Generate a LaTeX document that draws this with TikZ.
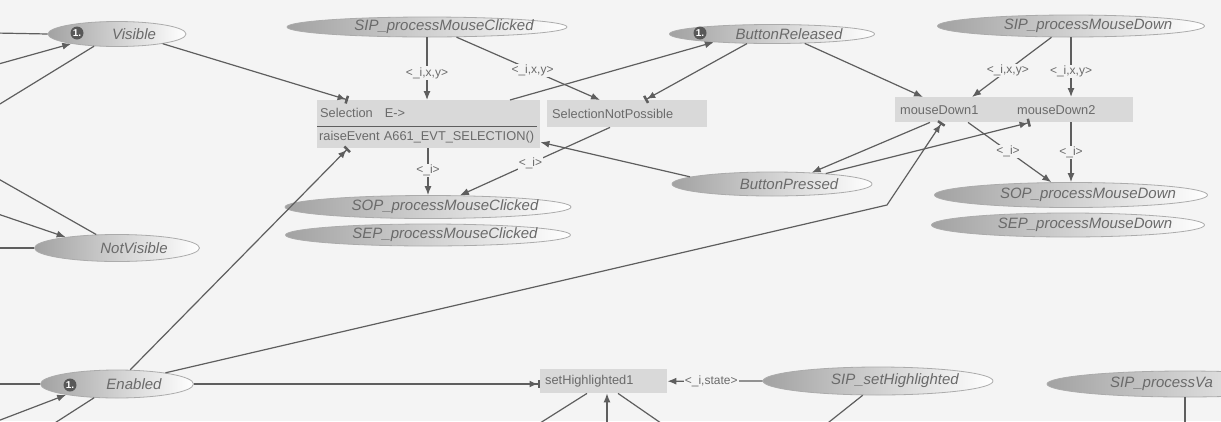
\documentclass[tikz,border=0pt]{standalone}
\usepackage{fontspec}
\setmainfont{Liberation Sans}
\definecolor{arcgray}{HTML}{5E5E5E}
\definecolor{placegray}{HTML}{A2A2A2}
\definecolor{tokengray}{HTML}{585858}
\definecolor{transgray}{HTML}{D9D9D9}
\definecolor{inkgray}{HTML}{6A6A6A}
\definecolor{paper}{HTML}{F4F4F4}
\usetikzlibrary{arrows.meta,positioning,shapes.geometric,calc}

\begin{document}
\begin{tikzpicture}[x=1pt,y=-1pt,
  place/.style={ellipse,inner sep=0pt,left color=placegray,right color=white,draw=placegray!90,line width=0.8pt},
  ptext/.style={font=\fontsize{15}{18}\selectfont\itshape,text=inkgray,inner sep=0pt},
  token/.style={circle,fill=tokengray,text=white,inner sep=0pt,minimum size=13pt,font=\fontsize{10}{12}\selectfont\bfseries},
  trans/.style={rectangle,fill=transgray,anchor=north west,inner xsep=5pt,inner ysep=0pt,text=inkgray,font=\fontsize{12.8}{15}\selectfont,align=left},
  flow/.style={arcgray,line width=1.2pt},
  arr/.style={-{Latex[length=9pt,width=7pt]}},
  bararr/.style={-{Latex[length=8pt,width=7pt]Rectangle[length=2.5pt,width=8pt]}},
  inscr/.style={fill=paper,inner sep=1pt,text=inkgray,font=\fontsize{12}{14}\selectfont}]
  \useasboundingbox (0,0) rectangle (1221,421);
  \fill[paper] (0,0) rectangle (1221,421);
  \clip (0,0) rectangle (1221,421);

  % places
  \foreach \nm/\cx/\cy/\w/\h/\txt in {vis/117/34/138/25/Visible,
    sipmc/427/27/280/20/SIP\_processMouseClicked,
    brel/772/34/205/19/ButtonReleased,
    sipmd/1071/26/267/22/SIP\_processMouseDown,
    sopmc/428/207/286/23/SOP\_processMouseClicked,
    sepmc/428/235/285/22/SEP\_processMouseClicked,
    bpr/772/184/200/24/ButtonPressed,
    sopmd/1071/195/273/25/SOP\_processMouseDown,
    sepmd/1068/225/273/24/SEP\_processMouseDown,
    notvis/117/248/165/27/NotVisible,
    enab/117/384/153/28/Enabled,
    siph/878/381/230/28/SIP\_setHighlighted} {
    \node[place,minimum width=\w,minimum height=\h] (\nm) at (\cx,\cy) {};
    \node[ptext] (\nm-t) at ([xshift=17pt]\nm.center) {\txt};
  }
  \node[place,minimum width=276,minimum height=26] (sippv) at (1185,384) {};
  \node[ptext,anchor=west] (sippv-t) at (1110,384) {SIP\_processVa};
  % tokens
  \foreach \nm/\tx/\ty in {vis/77/33, brel/700/33, enab/70/385} {
    \node[token] (\nm-tok) at (\tx,\ty) {1.};
  }

  % transitions
  \node[trans,inner xsep=3pt,text width=217,minimum height=26] (selhd) at (317,100) {Selection\hspace{12pt}E->};
  \node[trans,inner xsep=2pt,text width=219,minimum height=22] (selbd) at (317,126) {raiseEvent A661\_EVT\_SELECTION()};
  \draw[arcgray,line width=1.2pt] (selhd.south west) -- ([xshift=-3pt]selhd.south east);
  \node[trans,text width=150,minimum height=27] (snp) at (547,100) {SelectionNotPossible};
  \node[trans,text width=107,minimum height=25] (md1) at (895,97) {mouseDown1};
  \node[trans,text width=111,minimum height=25] (md2) at (1012,97) {mouseDown2};
  \node[trans,text width=117,minimum height=24] (sh1) at (540,369) {setHighlighted1};

  % arcs from outside the picture
  \coordinate (lv1) at (-5,33);
  \coordinate (lv2) at (-5,65);
  \coordinate (lv3) at (-5,107);
  \coordinate (ln1) at (-5,177);
  \coordinate (ln2) at (-5,213);
  \coordinate (ln3) at (-5,248);
  \coordinate (le1) at (-5,384);
  \coordinate (le2) at (-5,422);
  \coordinate (le3) at (47,428);
  \draw[flow] (lv1) -- (vis.west);
  \draw[flow,arr] (lv2) -- (vis.192);
  \draw[flow] (vis.208) -- (lv3);
  \draw[flow] (ln1) -- (notvis.147);
  \draw[flow,arr] (ln2) -- (notvis.168);
  \draw[flow] (ln3) -- (notvis.west);
  \draw[flow] (le1) -- (enab.west);
  \draw[flow,arr] (le2) -- (enab.192);
  \draw[flow] (enab.211) -- (le3);

  % Selection
  \draw[flow,bararr] (vis.-12) -- ([xshift=31pt]selhd.north west);
  \draw[flow,arr] (sipmc.south) -- node[inscr,pos=0.57] (l1) {<\_i,x,y>} ([xshift=110pt]selhd.north west);
  \draw[flow,arr] (sipmc.-19) -- node[inscr,pos=0.53] (l2) {<\_i,x,y>} ([xshift=53pt]snp.north west);
  \draw[flow,arr] ([xshift=193pt]selhd.north west) -- (brel.188);
  \draw[flow,bararr] (brel.201) -- ([xshift=98pt]snp.north west);
  \draw[flow,arr] ([xshift=111pt]selbd.south west) -- node[inscr,pos=0.47] (l7) {<\_i>} (sopmc.north);
  \draw[flow,arr] ([xshift=63pt]snp.south west) -- node[inscr,pos=0.53] (l8) {<\_i>} (sopmc.20);
  \draw[flow,arr] (bpr.175) -- ([yshift=-5pt]selbd.east);
  \draw[flow,bararr] (enab.47) -- ([xshift=31pt]selbd.south west);

  % mouse down
  \coordinate (bend) at (887,205);
  \draw[flow,arr] (brel.-16) -- ([xshift=28pt]md1.north west);
  \draw[flow,arr] (sipmd.210) -- node[inscr,pos=0.55] (l3) {<\_i,x,y>} ([xshift=77pt]md1.north west);
  \draw[flow,arr] (sipmd.south) -- node[inscr,pos=0.57] (l4) {<\_i,x,y>} ([xshift=59pt]md2.north west);
  \draw[flow,arr] ([xshift=35pt]md1.south west) -- (bpr.16);
  \draw[flow,bararr] (bpr.11) -- ([xshift=18pt]md2.south west);
  \draw[flow,bararr] (enab.13) -- (bend) -- ([xshift=47pt]md1.south west);
  \draw[flow,arr] ([xshift=73pt]md1.south west) -- node[inscr,pos=0.48] (l5) {<\_i>} (sopmd.147);
  \draw[flow,arr] ([xshift=59pt]md2.south west) -- node[inscr,pos=0.5] (l6) {<\_i>} (sopmd.north);

  % setHighlighted
  \coordinate (ls1) at (529,430);
  \coordinate (ls2) at (607,430);
  \coordinate (ls3) at (671,430);
  \coordinate (lsh) at (819,430);
  \coordinate (lpv) at (1185,430);
  \draw[flow,bararr] (enab.east) -- (enab.east -| sh1.west);
  \draw[flow,arr] (siph.west) -- node[inscr,pos=0.54] (l9) {<\_i,state>} (sh1.east);
  \draw[flow] ([xshift=47pt]sh1.south west) -- (ls1);
  \draw[flow,arr] (ls2) -- ([xshift=67pt]sh1.south west);
  \draw[flow] ([xshift=78pt]sh1.south west) -- (ls3);
  \draw[flow] (siph.223) -- (lsh);
  \draw[flow] (sippv.south) -- (lpv);
\end{tikzpicture}
\end{document}
